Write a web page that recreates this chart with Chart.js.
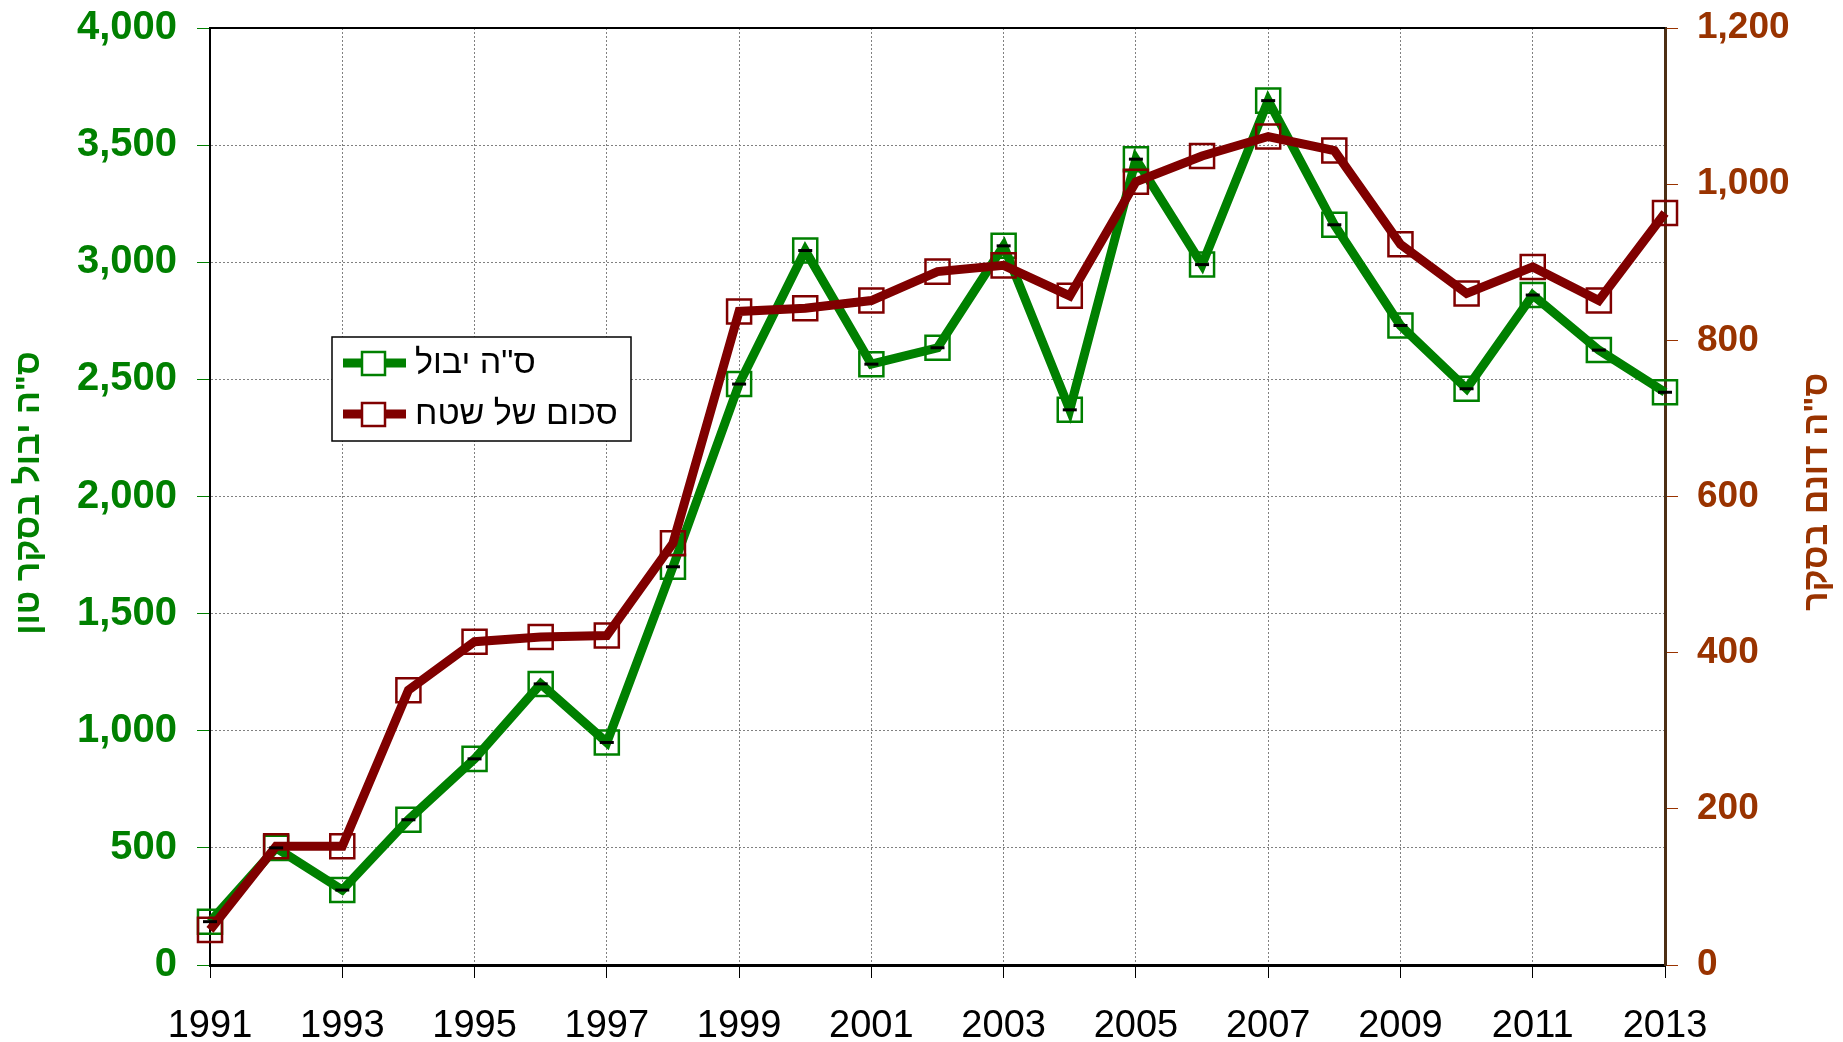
<!DOCTYPE html>
<html lang="he">
<head>
<meta charset="utf-8">
<title>יבול ושטח בסקר</title>
<script src="https://cdn.jsdelivr.net/npm/chart.js@4.4.1/dist/chart.umd.min.js"></script>
<style>
  html, body { margin: 0; padding: 0; background: #ffffff; }
  #wrap { width: 1843px; height: 1042px; position: relative; }
</style>
</head>
<body>
<div id="wrap"><canvas id="surveyChart"></canvas></div>
<script>
// ----- data -----
const years = ["1991","1992","1993","1994","1995","1996","1997","1998","1999","2000","2001","2002",
               "2003","2004","2005","2006","2007","2008","2009","2010","2011","2012","2013"];

// total yield in the survey (tons) - left axis
const yieldValues = [185, 500, 320, 620, 880, 1200, 950, 1700, 2480, 3050, 2565, 2635,
                     3070, 2370, 3440, 2990, 3690, 3160, 2730, 2460, 2860, 2625, 2445];

// total area (dunam) - right axis
const areaValues = [45, 152, 152, 352, 414, 420, 422, 540, 837, 841, 851, 888,
                    896, 857, 1003, 1036, 1061, 1043, 923, 860, 894, 851, 963];

const leftTicks  = [0, 500, 1000, 1500, 2000, 2500, 3000, 3500, 4000];
const rightTicks = [0, 200, 400, 600, 800, 1000, 1200];

const yieldLabel = 'ס"ה יבול';
const areaLabel  = "סכום של שטח";
const leftTitle  = 'ס"ה יבול בסקר טון';
const rightTitle = 'ס"ה דונם בסקר';

const GREEN = "#008000";
const DARKRED = "#800000";
const BROWN = "#993300";
const FONT = "'Liberation Sans', Arial, sans-serif";

// extra drawing: top frame line, rotated axis titles, the boxed legend
const decorations = {
  id: "decorations",
  afterDraw(chart) {
    const ctx = chart.ctx;
    const area = chart.chartArea;

    // top edge of the plot frame
    ctx.save();
    ctx.strokeStyle = "#000000";
    ctx.lineWidth = 2;
    ctx.beginPath();
    ctx.moveTo(area.left, area.top);
    ctx.lineTo(area.right, area.top);
    ctx.stroke();
    ctx.restore();

    // axis titles (both read bottom-to-top like the original)
    ctx.save();
    ctx.font = "bold 34px " + FONT;
    ctx.textAlign = "center";
    ctx.textBaseline = "middle";
    ctx.direction = "rtl";
    ctx.translate(30, 493);
    ctx.rotate(-Math.PI / 2);
    ctx.fillStyle = GREEN;
    ctx.fillText(leftTitle, 0, 0);
    ctx.restore();

    ctx.save();
    ctx.font = "bold 34px " + FONT;
    ctx.textAlign = "center";
    ctx.textBaseline = "middle";
    ctx.direction = "rtl";
    ctx.translate(1818, 492);
    ctx.rotate(-Math.PI / 2);
    ctx.fillStyle = BROWN;
    ctx.fillText(rightTitle, 0, 0);
    ctx.restore();

    // legend box
    const box = { x: 332, y: 337, w: 299, h: 104 };
    ctx.save();
    ctx.fillStyle = "#ffffff";
    ctx.fillRect(box.x, box.y, box.w, box.h);
    ctx.strokeStyle = "#000000";
    ctx.lineWidth = 1.5;
    ctx.strokeRect(box.x, box.y, box.w, box.h);

    const entries = [
      { ds: chart.data.datasets[2], y: 363 },
      { ds: chart.data.datasets[1], y: 414 }
    ];
    entries.forEach(e => {
      ctx.strokeStyle = e.ds.borderColor;
      ctx.lineWidth = 9;
      ctx.beginPath();
      ctx.moveTo(343, e.y);
      ctx.lineTo(406, e.y);
      ctx.stroke();
      ctx.fillStyle = "#ffffff";
      ctx.fillRect(362, e.y - 11, 23, 23);
      ctx.lineWidth = 2.5;
      ctx.strokeRect(362, e.y - 11, 23, 23);

      ctx.fillStyle = "#000000";
      ctx.font = "34px " + FONT;
      ctx.textAlign = "left";
      ctx.textBaseline = "middle";
      ctx.direction = "rtl";
      ctx.fillText(e.ds.label, 415, e.y + 1);
    });
    ctx.restore();
  }
};

const ctx = document.getElementById("surveyChart").getContext("2d");

new Chart(ctx, {
  type: "line",
  data: {
    labels: years,
    datasets: [
      {
        // small black dashes sitting on every yield point
        label: "dash",
        data: yieldValues,
        yAxisID: "y",
        showLine: false,
        pointStyle: "line",
        pointRadius: 7,
        pointBorderWidth: 3,
        borderColor: "#000000",
        backgroundColor: "#000000"
      },
      {
        label: areaLabel,
        data: areaValues,
        yAxisID: "y1",
        borderColor: DARKRED,
        borderWidth: 9,
        tension: 0,
        pointStyle: "rect",
        pointRadius: 17,
        pointBorderWidth: 2.5,
        pointBorderColor: DARKRED,
        pointBackgroundColor: "rgba(0,0,0,0)"
      },
      {
        label: yieldLabel,
        data: yieldValues,
        yAxisID: "y",
        borderColor: GREEN,
        borderWidth: 9,
        tension: 0,
        pointStyle: "rect",
        pointRadius: 17,
        pointBorderWidth: 2.5,
        pointBorderColor: GREEN,
        pointBackgroundColor: "rgba(0,0,0,0)"
      }
    ]
  },
  options: {
    responsive: true,
    maintainAspectRatio: false,
    devicePixelRatio: 1,
    animation: false,
    events: [],
    layout: { padding: { top: 28, left: 0, right: 0, bottom: 0 } },
    plugins: {
      legend: { display: false },
      tooltip: { enabled: false }
    },
    scales: {
      x: {
        type: "category",
        offset: false,
        afterFit: s => { s.height = 77; },
        grid: {
          color: c => (c.index % 2 === 0 ? "#808080" : "rgba(0,0,0,0)"),
          tickColor: c => (c.index % 2 === 0 ? "#000000" : "rgba(0,0,0,0)"),
          tickLength: 13,
          lineWidth: 1
        },
        border: { color: "#000000", width: 3, dash: [2, 2] },
        ticks: {
          autoSkip: false,
          maxRotation: 0,
          padding: 26,
          color: "#000000",
          font: { family: FONT, size: 38 },
          callback: function (val, i) {
            return i % 2 === 0 ? this.getLabelForValue(val) : "";
          }
        }
      },
      y: {
        position: "left",
        min: 0,
        max: 4000,
        afterFit: s => { s.width = 210; s.paddingTop = 0; s.paddingBottom = 0; },
        afterBuildTicks: s => { s.ticks = leftTicks.map(v => ({ value: v })); },
        grid: {
          color: "#808080",
          tickColor: GREEN,
          tickLength: 13,
          lineWidth: 1
        },
        border: { color: "#000000", width: 2, dash: [2, 2] },
        ticks: {
          padding: 20,
          color: GREEN,
          font: { family: FONT, size: 40, weight: "bold" },
          callback: v => v.toLocaleString("en-US")
        }
      },
      y1: {
        position: "right",
        min: 0,
        max: 1200,
        afterFit: s => { s.width = 178; s.paddingTop = 0; s.paddingBottom = 0; },
        afterBuildTicks: s => { s.ticks = rightTicks.map(v => ({ value: v })); },
        grid: {
          drawOnChartArea: false,
          tickColor: BROWN,
          tickLength: 13
        },
        border: { color: "#4d2e14", width: 3 },
        ticks: {
          padding: 19,
          color: BROWN,
          font: { family: FONT, size: 37, weight: "bold" },
          callback: v => v.toLocaleString("en-US")
        }
      }
    }
  },
  plugins: [decorations]
});
</script>
</body>
</html>
